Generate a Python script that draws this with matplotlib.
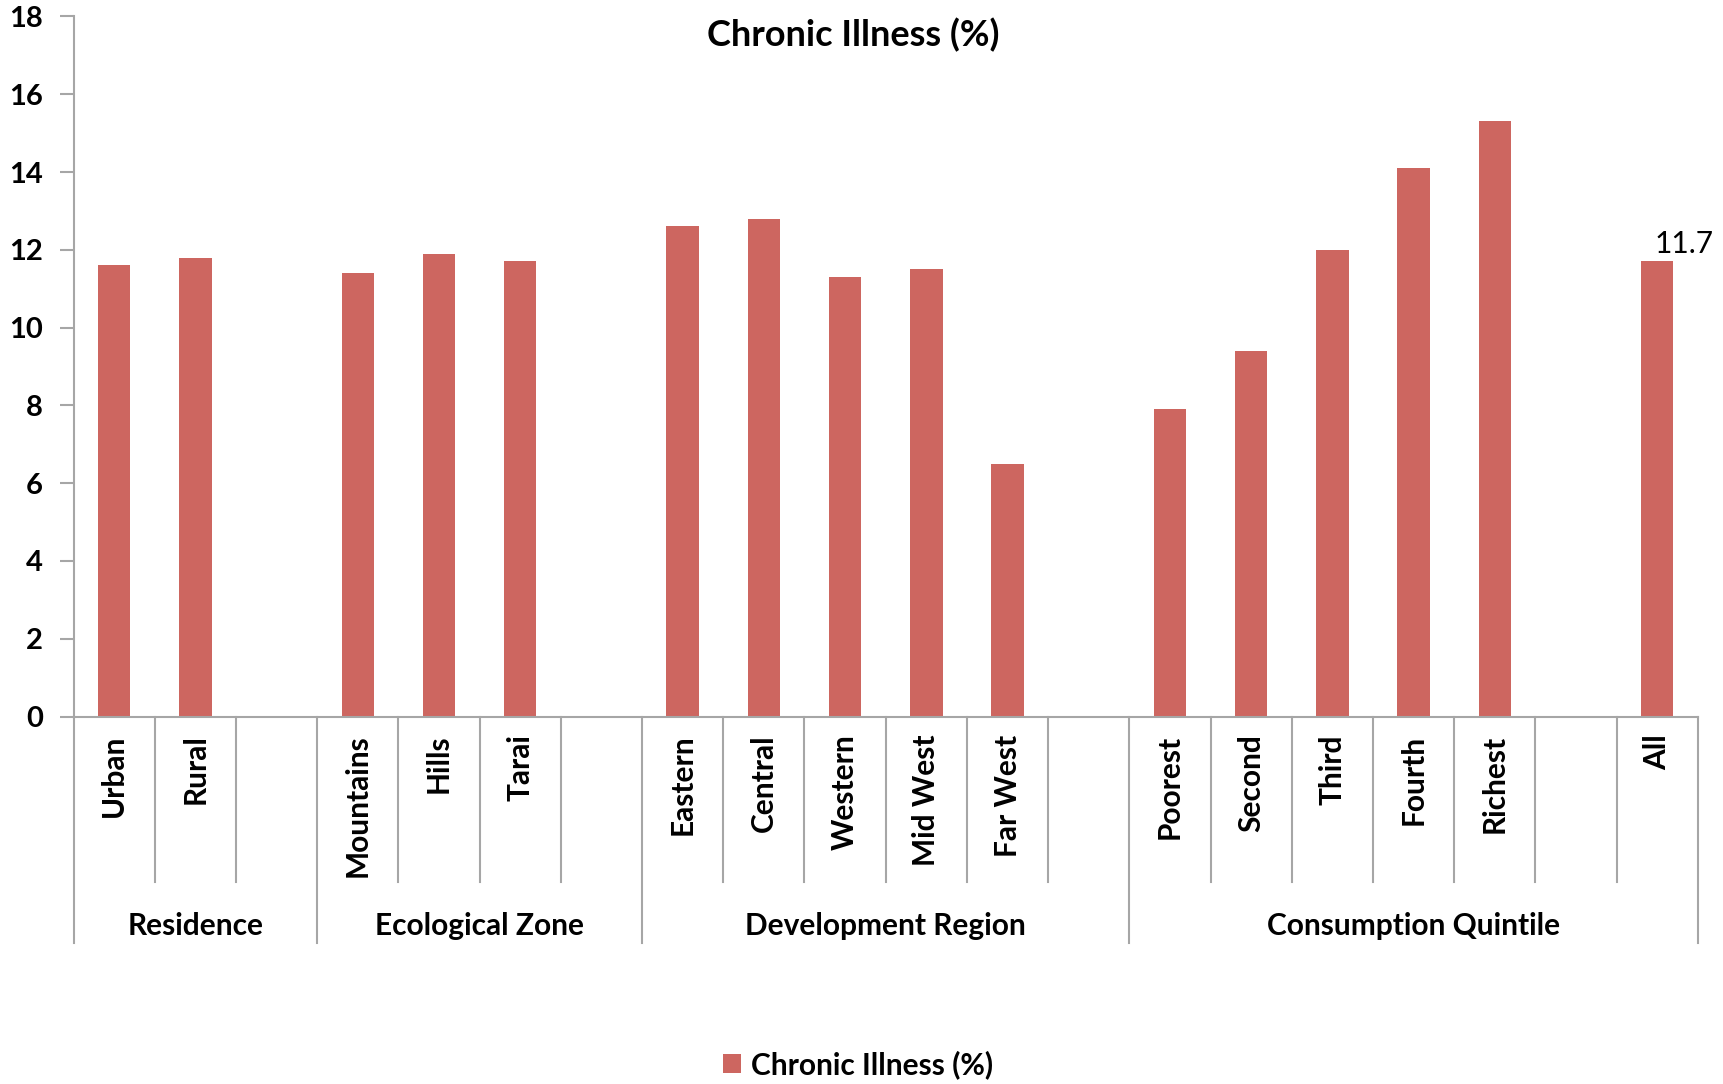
import matplotlib.pyplot as plt

# survey values, one list per grouping
residence = ['Urban', 'Rural']
residence_vals = [11.6, 11.8]
zones = ['Mountains', 'Hills', 'Tarai']
zone_vals = [11.4, 11.9, 11.7]
regions = ['Eastern', 'Central', 'Western', 'Mid West', 'Far West']
region_vals = [12.6, 12.8, 11.3, 11.5, 6.5]
quintiles = ['Poorest', 'Second', 'Third', 'Fourth', 'Richest']
quintile_vals = [7.9, 9.4, 12.0, 14.1, 15.3]
overall = 'All'
overall_val = 11.7
group_names = ['Residence', 'Ecological Zone', 'Development Region', 'Consumption Quintile']
series_name = 'Chronic Illness (%)'

plt.rcParams['font.family'] = ['Lato', 'DejaVu Sans']
bar_color = '#CD6660'
line_color = '#A6A6A6'

# one slot per category, an empty slot after each group, 'All' at the end
labels, values, bounds = [], [], [0]
for cats, vals in zip([residence, zones, regions, quintiles],
                      [residence_vals, zone_vals, region_vals, quintile_vals]):
    labels += cats + ['']
    values += vals + [None]
    bounds.append(len(labels))
labels.append(overall)
values.append(overall_val)
bounds[-1] = len(labels)  # last group runs to the end

fig = plt.figure(figsize=(17.23, 10.84), dpi=100)
ax = fig.add_axes([0.0427, 0.339, 0.9427, 0.6458])

xs = [i for i, v in enumerate(values) if v is not None]
ys = [v for v in values if v is not None]
ax.bar(xs, ys, width=0.4, color=bar_color, label=series_name, zorder=2)

ax.set_xlim(-0.5, len(labels) - 0.5)
ax.set_ylim(0, 18)
ax.set_yticks(range(0, 19, 2))
ax.tick_params(axis='y', length=10, width=1.5, color=line_color, pad=12, labelsize=21)
for t in ax.get_yticklabels():
    t.set_fontweight('bold')

ax.set_xticks(range(len(labels)))
ax.set_xticklabels(labels, rotation=90, fontsize=21.5, fontweight='bold')
ax.tick_params(axis='x', length=0, pad=13)

for s in ['top', 'right']:
    ax.spines[s].set_visible(False)
for s in ['left', 'bottom']:
    ax.spines[s].set_color(line_color)
    ax.spines[s].set_linewidth(1.5)

# divider lines under the axis: short between categories, long between groups
xt = ax.get_xaxis_transform()
for i in range(len(labels) + 1):
    depth = -0.324 if i in bounds else -0.237
    ax.plot([i - 0.5, i - 0.5], [0, depth], transform=xt, color=line_color,
            lw=1.5, clip_on=False)

for name, a, b in zip(group_names, bounds[:-1], bounds[1:]):
    ax.text((a + b - 1) / 2, -0.2986, name, transform=xt, ha='center', va='center',
            fontsize=21.5, fontweight='bold')

ax.text(len(labels) - 1 - 0.03, overall_val + 0.1, f'{overall_val:g}', ha='left',
        va='bottom', fontsize=21.5)

fig.text(0.495, 0.968, series_name, ha='center', va='center', fontsize=26,
         fontweight='bold')

fig.legend(loc='center', bbox_to_anchor=(0.498, 0.018), frameon=False,
           handlelength=0.6, handleheight=0.6, handletextpad=0.35,
           prop={'size': 21.5, 'weight': 'bold'})

fig.savefig('out.png', dpi=100)
